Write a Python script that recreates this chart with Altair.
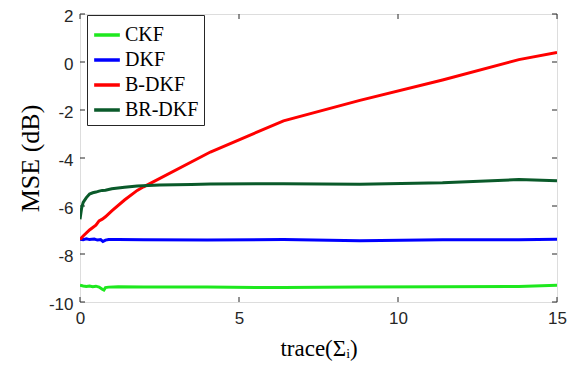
import altair as alt
import pandas as pd

series_names = ["CKF", "DKF", "B-DKF", "BR-DKF"]
series_colors = ["#1ee81e", "#0000ff", "#ff0000", "#0a5a2a"]

ckf_x = [0, 0.1, 0.2, 0.3, 0.4, 0.5, 0.6, 0.7, 0.75, 0.8, 0.9, 1.2, 2, 4, 6.4, 8.8, 11.4, 13.8, 15]
ckf_y = [-9.30, -9.33, -9.35, -9.33, -9.36, -9.34, -9.38, -9.47, -9.50, -9.40, -9.38, -9.36, -9.37, -9.38, -9.40, -9.38, -9.36, -9.35, -9.30]

dkf_x = [0, 0.1, 0.2, 0.3, 0.45, 0.55, 0.65, 0.72, 0.8, 0.9, 1.2, 2, 4, 6.4, 8.8, 11.4, 13.8, 15]
dkf_y = [-7.38, -7.40, -7.37, -7.40, -7.38, -7.42, -7.40, -7.48, -7.42, -7.40, -7.40, -7.41, -7.42, -7.40, -7.45, -7.41, -7.41, -7.39]

bdkf_x = [0, 0.1, 0.3, 0.5, 0.6, 0.7, 0.8, 1.0, 1.4, 1.8, 2.0, 4.1, 6.4, 8.8, 11.4, 13.8, 15]
bdkf_y = [-7.40, -7.25, -7.00, -6.80, -6.62, -6.55, -6.45, -6.20, -5.75, -5.35, -5.20, -3.75, -2.45, -1.60, -0.75, 0.10, 0.40]

brdkf_x = [0, 0.05, 0.1, 0.2, 0.3, 0.4, 0.5, 0.6, 0.7, 0.8, 1.0, 1.4, 1.8, 2.5, 3.5, 4.1, 6.4, 8.8, 11.4, 13.8, 15]
brdkf_y = [-6.55, -6.10, -5.85, -5.65, -5.50, -5.45, -5.42, -5.38, -5.35, -5.34, -5.28, -5.22, -5.17, -5.13, -5.10, -5.08, -5.07, -5.09, -5.03, -4.90, -4.95]

x_ticks = [0, 5, 10, 15]
y_ticks = [-10, -8, -6, -4, -2, 0, 2]

W, H = 477, 288

rows = []
for name, xs, ys in zip(series_names,
                        [ckf_x, dkf_x, bdkf_x, brdkf_x],
                        [ckf_y, dkf_y, bdkf_y, brdkf_y]):
    for i, (xv, yv) in enumerate(zip(xs, ys)):
        rows.append({"series": name, "x": xv, "y": yv, "order": i})
df = pd.DataFrame(rows)

xscale = alt.Scale(domain=[0, 15], nice=False, zero=False)
yscale = alt.Scale(domain=[-10, 2], nice=False, zero=False)

label_font = "Liberation Sans"
title_font = "Liberation Serif"
axis_col = "#262626"

lines = alt.Chart(df).mark_line(strokeWidth=3, clip=True).encode(
    x=alt.X("x:Q", scale=xscale,
            axis=alt.Axis(values=x_ticks, ticks=False, domain=False, grid=False,
                          labelExpr="'' + datum.value",
                          title="trace(Σᵢ)", titleFont=title_font, titleFontSize=23,
                          titleFontWeight="normal", titleColor="#000000", titlePadding=11,
                          labelFont=label_font, labelFontSize=17, labelColor=axis_col,
                          labelPadding=8, labelFlush=False)),
    y=alt.Y("y:Q", scale=yscale,
            axis=alt.Axis(values=y_ticks, ticks=False, domain=False, grid=False,
                          labelExpr="'' + datum.value",
                          title="MSE (dB)", titleFont=title_font, titleFontSize=26,
                          titleFontWeight="normal", titleColor="#000000", titlePadding=5,
                          labelFont=label_font, labelFontSize=17, labelColor=axis_col,
                          labelPadding=7, labelOffset=2, labelFlush=False)),
    color=alt.Color("series:N",
                    scale=alt.Scale(domain=series_names, range=series_colors),
                    legend=alt.Legend(title=None, orient="none", legendX=7, legendY=1,
                                      symbolType="stroke", symbolSize=660,
                                      symbolStrokeWidth=3.5, rowPadding=0,
                                      labelFont=title_font, labelFontSize=20,
                                      labelColor="#000000", labelOffset=3,
                                      padding=5, strokeColor=axis_col,
                                      fillColor="white")),
    order="order:Q",
)

xt = pd.DataFrame({"t": x_ticks})
yt = pd.DataFrame({"t": y_ticks})
tick_style = dict(color=axis_col, strokeWidth=1)

xt_bot = alt.Chart(xt).mark_rule(**tick_style).encode(
    x=alt.X("t:Q", scale=xscale), y=alt.value(H), y2=alt.value(H - 5))
xt_top = alt.Chart(xt).mark_rule(**tick_style).encode(
    x=alt.X("t:Q", scale=xscale), y=alt.value(0), y2=alt.value(5))
yt_left = alt.Chart(yt).mark_rule(**tick_style).encode(
    y=alt.Y("t:Q", scale=yscale), x=alt.value(0), x2=alt.value(5))
yt_right = alt.Chart(yt).mark_rule(**tick_style).encode(
    y=alt.Y("t:Q", scale=yscale), x=alt.value(W - 5), x2=alt.value(W))

chart = alt.layer(xt_bot, xt_top, yt_left, yt_right, lines).properties(
    width=W, height=H,
    autosize=alt.AutoSizeParams(type="none"),
    padding={"left": 72, "top": 6, "right": 17, "bottom": 60},
).configure_view(stroke=axis_col, strokeWidth=1).configure(background="white")

chart.save("out.html", embed_options={"renderer": "svg", "actions": False})
